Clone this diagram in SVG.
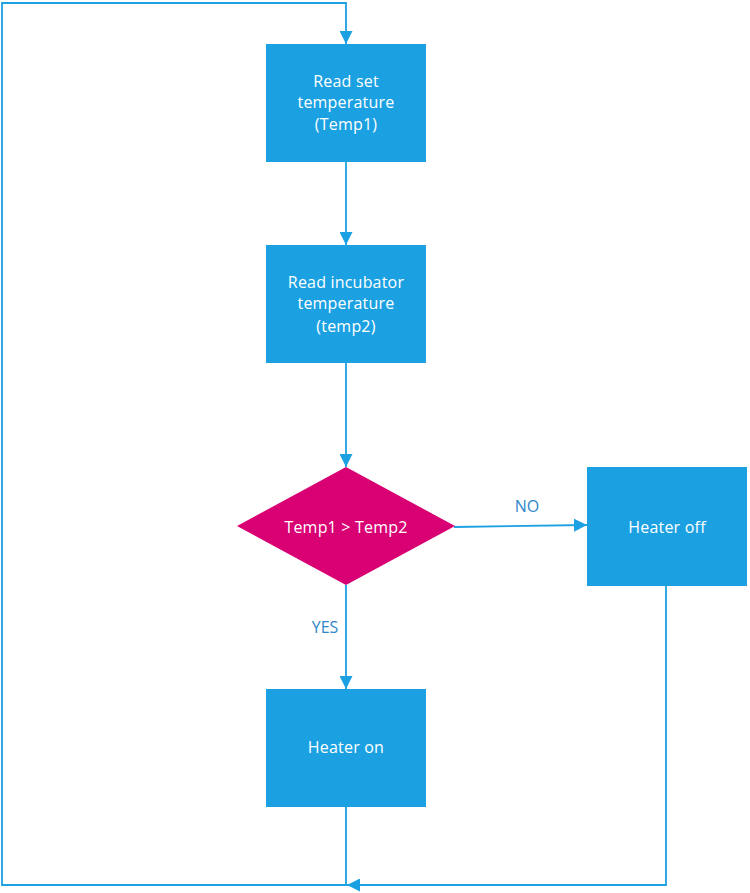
<svg xmlns="http://www.w3.org/2000/svg" width="750" height="893" viewBox="0 0 750 893">
<style>
.box{fill:#1ba1e2;}
.dia{fill:#d80073;}
.t{font-family:"Open Sans","Noto Sans",sans-serif;font-size:16px;fill:#ffffff;text-anchor:middle;letter-spacing:0.2px;}
.lbl{font-family:"Open Sans","Noto Sans",sans-serif;font-size:16px;fill:#2e86c8;text-anchor:middle;}
.c{fill:none;stroke:#1ba1e2;stroke-width:1.8;}
</style>
<defs>
<marker id="arr" markerWidth="13" markerHeight="13" viewBox="0 0 13 13" refX="13" refY="6.5" orient="auto" markerUnits="userSpaceOnUse">
<path d="M0,0 L13,6.5 L0,13 Z" fill="#1ba1e2"/>
</marker>
</defs>
<rect width="750" height="893" fill="#ffffff"/>
<g id="connectors">
<path class="c" d="M346,807 V885 H2 V3 H346 V44" marker-end="url(#arr)"/>
<path class="c" d="M346,162 V245" marker-end="url(#arr)"/>
<path class="c" d="M346,363 V467" marker-end="url(#arr)"/>
<path class="c" d="M454,527 L587,525" marker-end="url(#arr)"/>
<path class="c" d="M346,585 V689" marker-end="url(#arr)"/>
<path class="c" d="M666,586 V885 H347" marker-end="url(#arr)"/>
<text class="lbl" x="527" y="512">NO</text>
<text class="lbl" x="325" y="633">YES</text>
</g>
<g id="read-set">
<rect class="box" x="266" y="44" width="160" height="118"/>
<text class="t" x="346" y="87">Read set</text>
<text class="t" x="346" y="108">temperature</text>
<text class="t" x="346" y="130">(Temp1)</text>
</g>
<g id="read-incubator">
<rect class="box" x="266" y="245" width="160" height="118"/>
<text class="t" x="346" y="288">Read incubator</text>
<text class="t" x="346" y="309">temperature</text>
<text class="t" x="346" y="332">(temp2)</text>
</g>
<g id="decision">
<polygon class="dia" points="346,467 455,526 346,585 237,526"/>
<text class="t" x="346" y="533">Temp1 &gt; Temp2</text>
</g>
<g id="heater-off">
<rect class="box" x="587" y="467" width="160" height="119"/>
<text class="t" x="667" y="533">Heater off</text>
</g>
<g id="heater-on">
<rect class="box" x="266" y="689" width="160" height="118"/>
<text class="t" x="346" y="753">Heater on</text>
</g>
</svg>
